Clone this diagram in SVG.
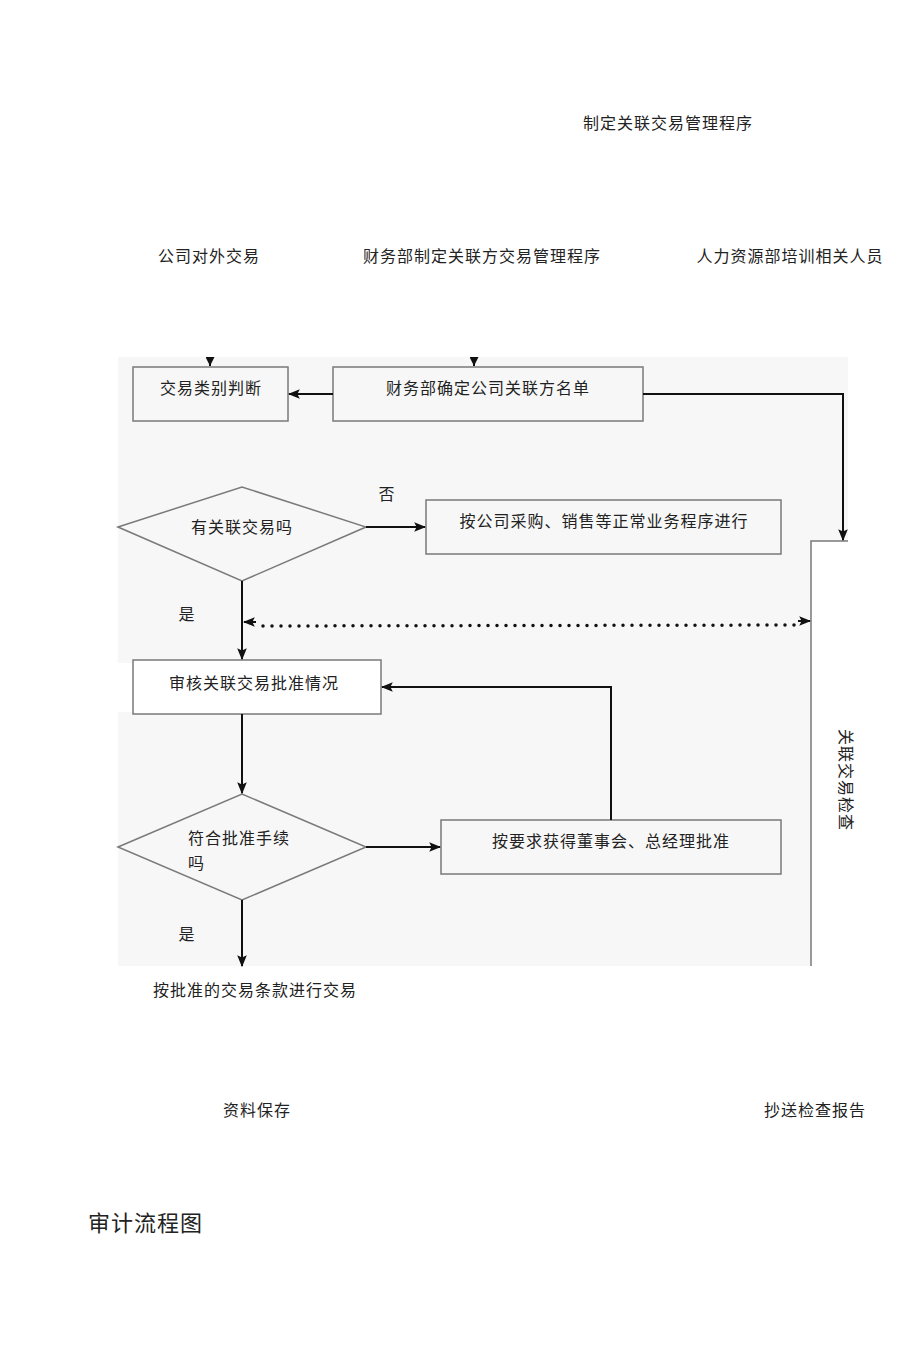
<svg xmlns="http://www.w3.org/2000/svg" width="920" height="1345" viewBox="0 0 920 1345">
<style>
text{font-family:"Liberation Serif","Noto Sans CJK SC",serif;font-size:16px;fill:#222;letter-spacing:1px}
.c{text-anchor:middle}
.box{fill:#f7f7f7;stroke:#7a7a7a;stroke-width:1.5}
.ln{fill:none;stroke:#111;stroke-width:2}
</style>
<defs>
<marker id="ah" viewBox="0 0 10 10" refX="10" refY="5" markerWidth="9" markerHeight="9" orient="auto" markerUnits="userSpaceOnUse">
<path d="M0,0 L10,5 L0,10 z" fill="#111"/>
</marker>
<marker id="a" viewBox="0 0 10 10" refX="9" refY="5" markerWidth="12" markerHeight="12" orient="auto" markerUnits="userSpaceOnUse">
<path d="M0,1 L10,5 L0,9 L2,5 z" fill="#111"/>
</marker>
</defs>
<rect width="920" height="1345" fill="#fff"/>
<!-- grey canvas -->
<rect x="118" y="357" width="730" height="609" fill="#f7f7f7"/>
<rect x="811" y="541" width="109" height="430" fill="#fff"/>
<rect x="118" y="663" width="16" height="49" fill="#fff"/>

<g id="t-top"><text class="c" x="668" y="129">制定关联交易管理程序</text></g>
<g id="t-ext"><text class="c" x="209" y="262">公司对外交易</text></g>
<g id="t-fin"><text class="c" x="482" y="262">财务部制定关联方交易管理程序</text></g>
<g id="t-hr"><text class="c" x="790" y="262">人力资源部培训相关人员</text></g>

<g id="n1"><rect class="box" x="133" y="367" width="155" height="54"/><text class="c" x="211" y="394">交易类别判断</text></g>
<g id="n2"><rect class="box" x="333" y="367" width="310" height="54"/><text class="c" x="488" y="394">财务部确定公司关联方名单</text></g>
<g id="d1"><polygon class="box" points="118,527 242,487 366,527 242,581"/><text class="c" x="242" y="533">有关联交易吗</text></g>
<g id="n3"><rect class="box" x="426" y="500" width="355" height="54"/><text class="c" x="604" y="527">按公司采购、销售等正常业务程序进行</text></g>
<g id="n4"><rect x="133" y="660" width="248" height="54" fill="#fff" stroke="#7a7a7a" stroke-width="1.5"/><text class="c" x="254" y="689">审核关联交易批准情况</text></g>
<g id="d2"><polygon class="box" points="118,847 242,794 366,847 242,900"/><text x="188" y="844">符合批准手续</text><text x="188" y="869">吗</text></g>
<g id="n5"><rect class="box" x="441" y="820" width="340" height="54"/><text class="c" x="611" y="847">按要求获得董事会、总经理批准</text></g>
<g id="n6"><path d="M811,966 V541 H848" fill="none" stroke="#7a7a7a" stroke-width="1.5"/><text class="c" transform="translate(840,780) rotate(90)">关联交易检查</text></g>
<g id="t-deal"><text class="c" x="255" y="996">按批准的交易条款进行交易</text></g>
<g id="t-keep"><text class="c" x="257" y="1116">资料保存</text></g>
<g id="t-rep"><text class="c" x="815" y="1116">抄送检查报告</text></g>
<g id="t-title"><text x="88" y="1231" style="font-size:22px;letter-spacing:1px">审计流程图</text></g>

<g id="labels">
<text class="c" x="387" y="500">否</text>
<text class="c" x="187" y="620">是</text>
<text class="c" x="187" y="940">是</text>
</g>

<g id="connectors">
<line class="ln" x1="210" y1="357" x2="210" y2="366" marker-end="url(#ah)"/>
<line class="ln" x1="474" y1="357" x2="474" y2="366" marker-end="url(#ah)"/>
<line class="ln" x1="333" y1="394" x2="289" y2="394" marker-end="url(#a)"/>
<path class="ln" d="M643,394 H843 V540" marker-end="url(#a)"/>
<line class="ln" x1="366" y1="527" x2="425" y2="527" marker-end="url(#a)"/>
<line class="ln" x1="242" y1="581" x2="242" y2="659" marker-end="url(#a)"/>
<line x1="263" y1="626" x2="802" y2="625" stroke="#111" stroke-width="3.5" stroke-linecap="round" stroke-dasharray="0 9"/>
<line class="ln" x1="256" y1="622" x2="244" y2="622" marker-end="url(#a)"/>
<line class="ln" x1="798" y1="621" x2="810" y2="621" marker-end="url(#a)"/>
<line class="ln" x1="242" y1="714" x2="242" y2="793" marker-end="url(#a)"/>
<line class="ln" x1="366" y1="847" x2="440" y2="847" marker-end="url(#a)"/>
<path class="ln" d="M611,820 V687 H382" marker-end="url(#a)"/>
<line class="ln" x1="242" y1="900" x2="242" y2="966" marker-end="url(#a)"/>
</g>
</svg>
